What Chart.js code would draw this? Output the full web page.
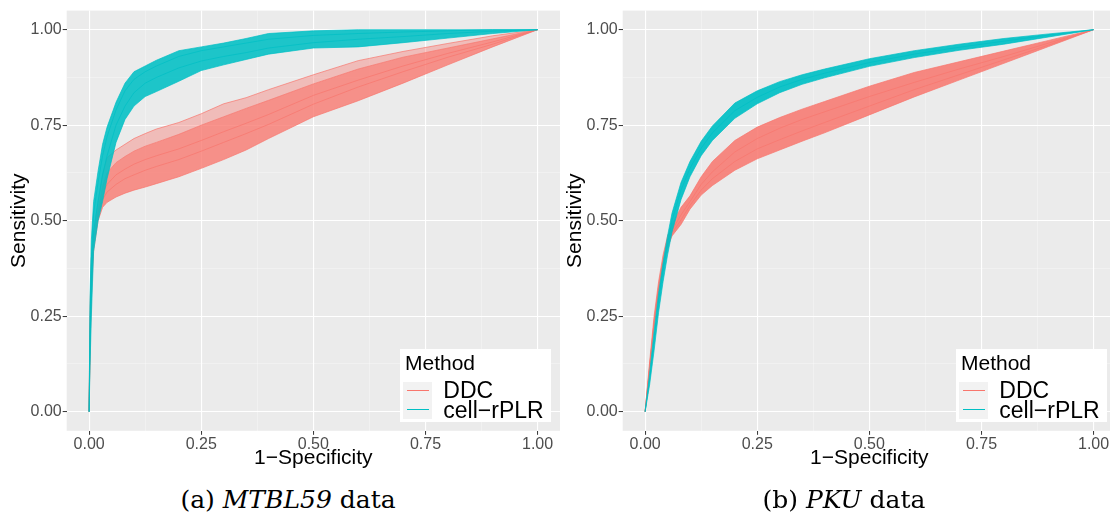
<!DOCTYPE html>
<html>
<head>
<meta charset="utf-8">
<script src="https://cdn.jsdelivr.net/npm/chart.js@4.4.1/dist/chart.umd.min.js"></script>
<style>
html, body { margin: 0; padding: 0; background: #fff; width: 1110px; height: 513px; overflow: hidden; }
.fig { position: absolute; top: 0; width: 560px; height: 513px; }
.fig canvas { position: absolute; left: 0; top: 0; }
.legend { position: absolute; left: 400px; top: 349.3px; width: 150.7px; height: 72.4px; background: #fff;
  font-family: "Liberation Sans", Arial, sans-serif; color: #000; }
.legend div { position: absolute; white-space: nowrap; }
.legend .ttl { left: 5px; top: 2.9px; font-size: 21px; line-height: 21px; }
.legend .key { left: 3.3px; width: 28.4px; height: 18.5px; background: #F2F2F2; }
.legend .key span { position: absolute; left: 3.4px; top: 8.6px; width: 22.6px; height: 1.1px; }
.legend .lab { left: 43.3px; font-size: 23px; line-height: 23px; }
.caption { position: absolute; left: 0; width: 576px; top: 487px; text-align: center;
  font-family: "DejaVu Serif", serif; font-size: 25px; line-height: 25px; color: #000; white-space: nowrap; }
</style>
</head>
<body>

<div class="fig" style="left:0px">
  <canvas id="chartA" width="560" height="475"></canvas>
  <div class="legend">
    <div class="ttl">Method</div>
    <div class="key" style="top:32.4px"><span style="background:#F8766D"></span></div>
    <div class="key" style="top:51.2px"><span style="background:#00BFC4"></span></div>
    <div class="lab" style="top:29.5px">DDC</div>
    <div class="lab" style="top:49.5px">cell−rPLR</div>
  </div>
  <div class="caption">(a) <i>MTBL59</i> data</div>
</div>

<div class="fig" style="left:556px">
  <canvas id="chartB" width="560" height="475"></canvas>
  <div class="legend">
    <div class="ttl">Method</div>
    <div class="key" style="top:32.4px"><span style="background:#F8766D"></span></div>
    <div class="key" style="top:51.2px"><span style="background:#00BFC4"></span></div>
    <div class="lab" style="top:29.5px">DDC</div>
    <div class="lab" style="top:49.5px">cell−rPLR</div>
  </div>
  <div class="caption">(b) <i>PKU</i> data</div>
</div>

<script>
// ---------------------------------------------------------------- data
const gridTicks = [0, 0.125, 0.25, 0.375, 0.5, 0.625, 0.75, 0.875, 1];
const majorTicks = [0, 0.25, 0.5, 0.75, 1];

// (a) MTBL59 : 1-specificity grid and sensitivity of a few of the curves
const fprA = [0, 0.002, 0.005, 0.01, 0.02, 0.03, 0.04, 0.06, 0.08, 0.1, 0.125, 0.15, 0.2, 0.25, 0.3, 0.35, 0.4, 0.5, 0.6, 0.7, 0.8, 0.9, 1];
const cellA_hi  = [0, 0.30, 0.45, 0.55, 0.63, 0.70, 0.745, 0.81, 0.86, 0.89, 0.905, 0.92, 0.945, 0.955, 0.965, 0.977, 0.99, 0.997, 1, 1, 1, 1, 1];
const cellA_lo  = [0, 0.12, 0.25, 0.42, 0.50, 0.55, 0.61, 0.705, 0.765, 0.80, 0.825, 0.838, 0.865, 0.893, 0.908, 0.922, 0.936, 0.952, 0.955, 0.966, 0.978, 0.99, 1];
const cellA_m1  = [0, 0.25, 0.40, 0.52, 0.60, 0.67, 0.72, 0.79, 0.84, 0.87, 0.89, 0.905, 0.93, 0.945, 0.955, 0.965, 0.975, 0.985, 0.99, 0.994, 0.997, 1, 1];
const cellA_m2  = [0, 0.18, 0.33, 0.47, 0.55, 0.62, 0.67, 0.75, 0.80, 0.835, 0.86, 0.875, 0.90, 0.918, 0.93, 0.94, 0.952, 0.966, 0.975, 0.982, 0.99, 0.996, 1];
const ddcA_hi   = [0, 0.28, 0.40, 0.47, 0.55, 0.62, 0.665, 0.685, 0.70, 0.715, 0.728, 0.74, 0.757, 0.78, 0.806, 0.822, 0.843, 0.882, 0.919, 0.943, 0.964, 0.984, 1];
const ddcA_lo   = [0, 0.15, 0.30, 0.42, 0.50, 0.535, 0.548, 0.562, 0.572, 0.58, 0.588, 0.597, 0.615, 0.637, 0.66, 0.685, 0.715, 0.772, 0.814, 0.86, 0.908, 0.955, 1];
const ddcA_m1   = [0, 0.22, 0.36, 0.45, 0.53, 0.59, 0.625, 0.652, 0.668, 0.682, 0.695, 0.705, 0.726, 0.75, 0.772, 0.794, 0.815, 0.858, 0.897, 0.928, 0.952, 0.976, 1];
const ddcA_m2   = [0, 0.18, 0.33, 0.44, 0.515, 0.555, 0.575, 0.595, 0.61, 0.62, 0.632, 0.642, 0.66, 0.682, 0.705, 0.728, 0.752, 0.805, 0.85, 0.89, 0.928, 0.962, 1];
const ddcA_m3   = [0, 0.20, 0.34, 0.445, 0.52, 0.568, 0.595, 0.62, 0.635, 0.648, 0.66, 0.67, 0.688, 0.71, 0.733, 0.755, 0.778, 0.828, 0.868, 0.905, 0.938, 0.968, 1];

// (b) PKU
const fprB = [0, 0.01, 0.02, 0.03, 0.04, 0.05, 0.06, 0.08, 0.1, 0.125, 0.15, 0.2, 0.25, 0.3, 0.35, 0.4, 0.5, 0.6, 0.7, 0.8, 0.9, 1];
const cellB_hi  = [0, 0.10, 0.21, 0.31, 0.39, 0.46, 0.52, 0.60, 0.655, 0.708, 0.748, 0.808, 0.84, 0.864, 0.882, 0.897, 0.924, 0.945, 0.962, 0.977, 0.989, 1];
const cellB_lo  = [0, 0.07, 0.16, 0.26, 0.34, 0.41, 0.47, 0.555, 0.615, 0.67, 0.71, 0.768, 0.806, 0.835, 0.857, 0.874, 0.904, 0.927, 0.946, 0.962, 0.981, 1];
const cellB_m1  = [0, 0.085, 0.19, 0.29, 0.37, 0.44, 0.50, 0.58, 0.637, 0.69, 0.73, 0.788, 0.823, 0.85, 0.87, 0.886, 0.914, 0.936, 0.954, 0.97, 0.986, 1];
const ddcB_hi   = [0, 0.13, 0.25, 0.34, 0.41, 0.46, 0.49, 0.535, 0.565, 0.615, 0.655, 0.71, 0.745, 0.77, 0.792, 0.812, 0.852, 0.888, 0.916, 0.944, 0.972, 1];
const ddcB_lo   = [0, 0.11, 0.22, 0.31, 0.38, 0.43, 0.46, 0.49, 0.53, 0.567, 0.592, 0.632, 0.662, 0.685, 0.708, 0.73, 0.777, 0.824, 0.868, 0.912, 0.956, 1];
const ddcB_m1   = [0, 0.12, 0.235, 0.325, 0.395, 0.445, 0.475, 0.515, 0.55, 0.595, 0.628, 0.68, 0.715, 0.742, 0.765, 0.785, 0.825, 0.862, 0.897, 0.93, 0.965, 1];
const ddcB_m2   = [0, 0.115, 0.228, 0.318, 0.388, 0.438, 0.468, 0.502, 0.54, 0.58, 0.61, 0.655, 0.688, 0.712, 0.735, 0.757, 0.80, 0.843, 0.882, 0.921, 0.96, 1];

// ---------------------------------------------------------------- helpers
const DDC = '#F8766D';
const CELL = '#00BFC4';

const pts = (xs, ys) => xs.map((x, i) => ({x: x, y: ys[i]}));

function line(xs, ys, color, fill) {
    return {
        data: pts(xs, ys),
        showLine: true,
        borderColor: color,
        borderWidth: 0.7,
        pointRadius: 0,
        fill: fill ? fill.target : false,
        backgroundColor: fill ? fill.color : color
    };
}

const panelBg = {
    id: 'panelBg',
    beforeDraw(chart) {
        const {ctx, chartArea: a} = chart;
        ctx.save();
        ctx.fillStyle = '#EBEBEB';
        ctx.fillRect(a.left, a.top, a.right - a.left, a.bottom - a.top);
        ctx.restore();
    }
};

function axis(title, dir) {
    const isMajor = v => majorTicks.some(m => Math.abs(m - v) < 1e-9);
    return {
        type: 'linear',
        min: -0.05,
        max: 1.05,
        afterBuildTicks: s => { s.ticks = gridTicks.map(v => ({value: v})); },
        afterFit: s => { if (dir === 'x') s.height = 44.2; else s.width = 66.7; },
        border: {display: false},
        grid: {
            color: c => isMajor(c.tick.value) ? '#FFFFFF' : 'rgba(255,255,255,0.55)',
            lineWidth: c => isMajor(c.tick.value) ? 1.1 : 0.6,
            tickColor: c => isMajor(c.tick.value) ? '#333333' : 'rgba(0,0,0,0)',
            tickLength: 4,
            tickWidth: 1
        },
        ticks: {
            autoSkip: false,
            maxRotation: 0,
            padding: dir === 'x' ? 0 : 1,
            color: '#4D4D4D',
            font: {family: 'Liberation Sans', size: 16},
            callback: v => isMajor(v) ? v.toFixed(2) : ''
        },
        title: {
            display: true,
            text: title,
            color: '#000000',
            font: {family: 'Liberation Sans', size: 21, lineHeight: 1.2},
            padding: dir === 'x' ? {top: 0, bottom: 3.9} : {top: 7, bottom: 0}
        }
    };
}

function makeChart(id, sets) {
    return new Chart(document.getElementById(id), {
        type: 'scatter',
        data: {datasets: sets},
        options: {
            responsive: false,
            animation: false,
            layout: {padding: {top: 10.2, left: 0, right: 0, bottom: 0}},
            plugins: {legend: {display: false}, tooltip: {enabled: false}},
            elements: {line: {tension: 0}},
            scales: {
                x: axis('1\u2212Specificity', 'x'),
                y: axis('Sensitivity', 'y')
            }
        },
        plugins: [panelBg]
    });
}

// dataset 0 is drawn last, so cell-rPLR goes first (on top)
makeChart('chartA', [
    line(fprA, cellA_m1, CELL),
    line(fprA, cellA_m2, CELL),
    line(fprA, cellA_lo, CELL),
    line(fprA, cellA_hi, CELL, {target: 2, color: 'rgba(0,191,196,0.88)'}),
    line(fprA, ddcA_m2, DDC),
    line(fprA, ddcA_m3, DDC),
    line(fprA, ddcA_lo, DDC),
    line(fprA, ddcA_m1, DDC, {target: 6, color: 'rgba(248,118,109,0.78)'}),
    line(fprA, ddcA_hi, DDC, {target: 7, color: 'rgba(248,118,109,0.4)'})
]);

makeChart('chartB', [
    line(fprB, cellB_m1, CELL),
    line(fprB, cellB_lo, CELL),
    line(fprB, cellB_hi, CELL, {target: 1, color: 'rgba(0,191,196,0.92)'}),
    line(fprB, ddcB_m1, DDC),
    line(fprB, ddcB_m2, DDC),
    line(fprB, ddcB_lo, DDC),
    line(fprB, ddcB_hi, DDC, {target: 5, color: 'rgba(248,118,109,0.85)'})
]);
</script>
</body>
</html>
